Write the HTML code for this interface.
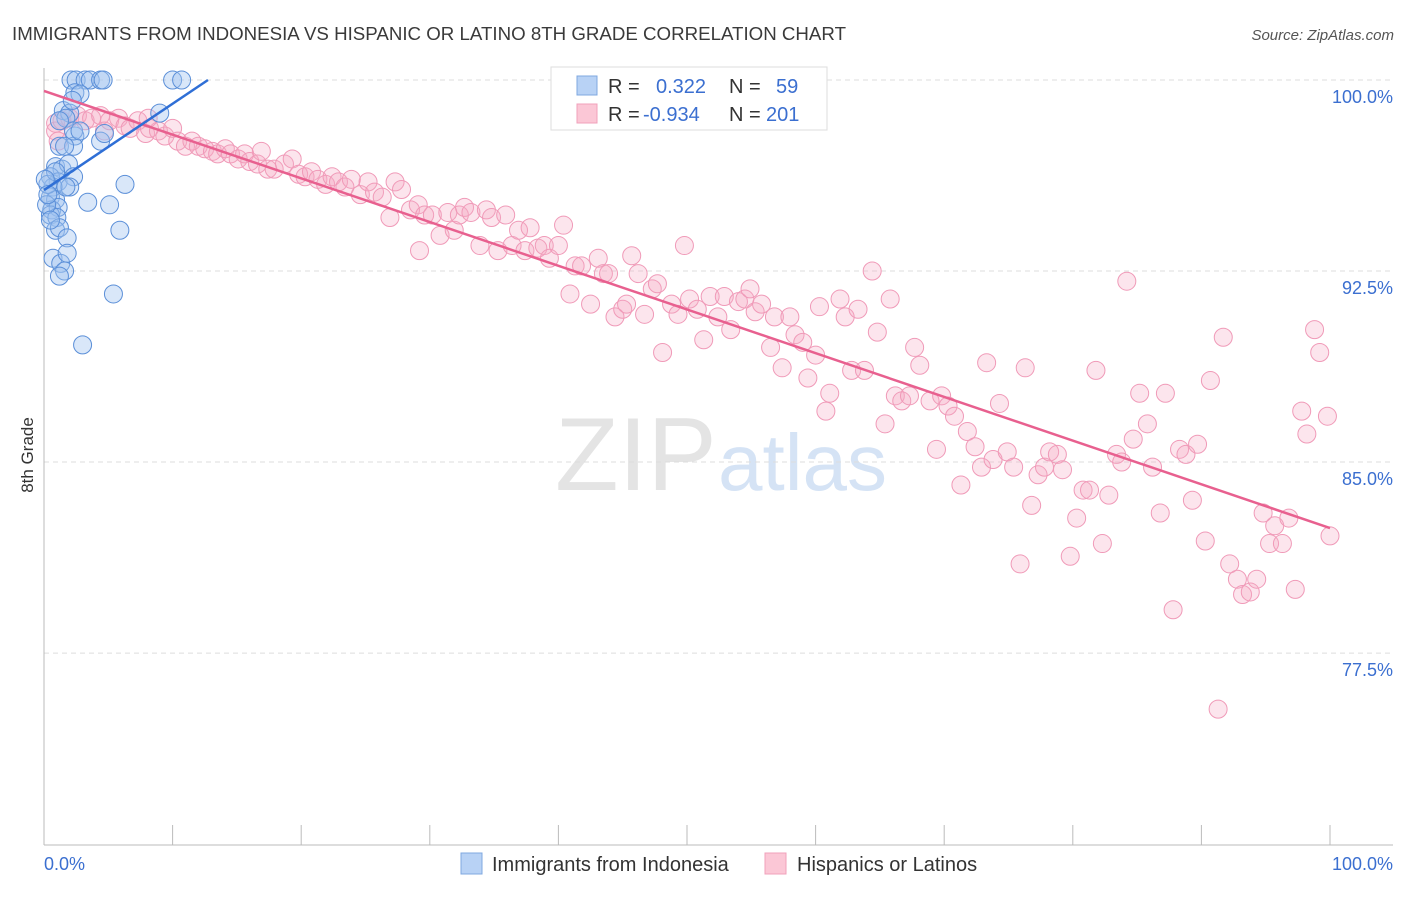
<!DOCTYPE html>
<html><head><meta charset="utf-8">
<style>
body{margin:0;background:#fff;font-family:"Liberation Sans",sans-serif;}
svg text{font-family:"Liberation Sans",sans-serif;}
</style></head>
<body>
<svg id="chart" width="1406" height="892" xmlns="http://www.w3.org/2000/svg">
<text x="12" y="40" font-size="18.5" fill="#3a3a3a" textLength="834" lengthAdjust="spacingAndGlyphs">IMMIGRANTS FROM INDONESIA VS HISPANIC OR LATINO 8TH GRADE CORRELATION CHART</text>
<text x="1394" y="40" font-size="15" fill="#555" text-anchor="end" font-style="italic">Source: ZipAtlas.com</text>
<g>
<text x="555" y="490" font-size="104" fill="#e4e4e4" font-family="Liberation Serif">ZIP</text>
<text x="718" y="490" font-size="80" fill="#d5e3f5">atlas</text>
</g>
<g id="grid"></g>
<g id="axes"></g>
<g id="pink"></g>
<g id="blue"></g>
<g id="lines"></g>
<text transform="translate(33,455) rotate(-90)" font-size="17" fill="#333" text-anchor="middle">8th Grade</text>
<g>
<rect x="551" y="67" width="276" height="63" fill="#fff" stroke="#ddd"/>
<rect x="577" y="76" width="20" height="19" fill="#b8d2f5" stroke="#7fa8e0"/>
<rect x="577" y="104" width="20" height="19" fill="#fbc7d6" stroke="#f0a0bb"/>
<text x="608" y="93" font-size="20" fill="#333">R =</text>
<text x="656" y="93" font-size="20" fill="#3b6fd0">0.322</text>
<text x="729" y="93" font-size="20" fill="#333">N =</text>
<text x="776" y="93" font-size="20" fill="#3b6fd0">59</text>
<text x="608" y="121" font-size="20" fill="#333">R =</text>
<text x="643" y="121" font-size="20" fill="#3b6fd0">-0.934</text>
<text x="729" y="121" font-size="20" fill="#333">N =</text>
<text x="766" y="121" font-size="20" fill="#3b6fd0">201</text>
</g>
<g>
<rect x="461" y="853" width="21" height="21" fill="#b8d2f5" stroke="#7fa8e0"/>
<text x="492" y="871" font-size="20" fill="#333">Immigrants from Indonesia</text>
<rect x="765" y="853" width="21" height="21" fill="#fbc7d6" stroke="#f0a0bb"/>
<text x="797" y="871" font-size="20" fill="#333">Hispanics or Latinos</text>
</g>
</svg>
<script>
const yTicks=[100,92.5,85,77.5];
const yTickLabels=["100.0%","92.5%","85.0%","77.5%"];
const xTickCount=10;
const blueX=[2.1,2.5,3.2,3.6,4.4,4.6,10.0,10.7,2.4,2.8,1.5,2.0,1.7,9.0,4.4,2.4,1.2,2.3,0.9,1.4,1.9,0.5,1.1,2.3,2.0,0.7,6.3,0.5,0.9,0.6,1.1,0.5,1.0,3.4,5.1,0.9,1.2,1.8,5.9,0.7,1.3,1.8,1.6,1.2,5.4,3.0,0.3,0.2,0.5,0.9,1.6,2.3,2.8,0.1,0.3,1.7,4.7,2.2,1.2];
const blueY=[100,100,100,100,100,100,100,100,99.5,99.45,98.8,98.7,98.5,98.7,97.6,97.8,97.4,97.4,96.6,96.5,96.7,96.2,96.0,96.2,95.8,95.8,95.9,95.4,95.3,94.9,95.0,94.7,94.6,95.2,95.1,94.1,94.2,93.8,94.1,93.0,92.8,93.2,92.5,92.3,91.6,89.6,95.9,95.1,94.5,96.4,97.4,98.0,98.0,96.1,95.5,95.8,97.9,99.2,98.4];
const pinkX=[0.9,0.9,1.4,2.0,2.6,3.2,3.7,4.4,4.7,5.1,5.8,6.3,6.7,7.3,7.9,8.2,8.9,9.4,10.0,10.4,11.0,11.5,12.0,12.5,13.1,13.5,14.1,14.5,15.1,15.6,16.0,16.6,16.9,17.4,17.9,18.7,19.3,19.8,20.3,20.8,21.3,21.9,22.4,22.9,23.4,23.9,24.6,25.2,25.7,26.3,26.9,27.3,27.8,28.5,29.1,29.2,29.6,30.2,30.8,31.4,31.9,32.3,32.7,33.2,33.9,34.4,34.8,35.3,35.9,36.4,36.9,37.4,37.8,38.4,38.9,39.3,40.0,40.4,40.9,41.3,41.8,42.5,43.1,43.5,43.9,44.4,45.0,45.3,45.7,46.2,46.7,47.3,47.7,48.1,48.8,49.3,49.8,50.2,50.8,51.3,51.8,52.4,52.9,53.4,54.0,54.5,54.9,55.3,55.8,56.5,56.8,57.4,58.0,58.4,59.0,59.4,60.0,60.3,60.8,61.1,61.9,62.3,62.8,63.3,63.8,64.4,64.8,65.4,65.8,66.2,66.7,67.3,67.7,68.1,68.9,69.4,69.8,70.3,70.8,71.3,71.8,72.4,72.9,73.3,73.8,74.3,74.9,75.4,75.9,76.3,76.8,77.3,77.8,78.2,78.8,79.2,79.8,80.3,80.8,81.3,81.8,82.3,82.8,83.4,83.8,84.2,84.7,85.2,85.8,86.2,86.8,87.2,87.8,88.3,88.8,89.3,89.7,90.3,90.7,91.3,91.7,92.2,92.8,93.2,93.8,94.3,94.8,95.3,95.7,96.3,96.8,97.3,97.8,98.2,98.8,99.2,99.8,100,1.1,8.1];
const pinkY=[98.3,98.0,98.4,98.5,98.6,98.4,98.5,98.6,98.0,98.4,98.5,98.2,98.1,98.4,97.9,98.1,98.0,97.8,98.1,97.6,97.4,97.6,97.4,97.3,97.2,97.1,97.3,97.1,96.9,97.1,96.8,96.7,97.2,96.5,96.5,96.7,96.9,96.3,96.2,96.4,96.1,95.9,96.2,96.0,95.8,96.1,95.5,96.0,95.6,95.4,94.6,96.0,95.7,94.9,95.1,93.3,94.7,94.7,93.9,94.8,94.1,94.7,95.0,94.8,93.5,94.9,94.6,93.3,94.7,93.5,94.1,93.3,94.2,93.4,93.5,93.0,93.5,94.3,91.6,92.7,92.7,91.2,93.0,92.4,92.4,90.7,91.0,91.2,93.1,92.4,90.8,91.8,92.0,89.3,91.2,90.8,93.5,91.4,91.0,89.8,91.5,90.7,91.5,90.2,91.3,91.4,91.8,90.9,91.2,89.5,90.7,88.7,90.7,90.0,89.7,88.3,89.2,91.1,87.0,87.7,91.4,90.7,88.6,91.0,88.6,92.5,90.1,86.5,91.4,87.6,87.4,87.6,89.5,88.8,87.4,85.5,87.6,87.2,86.8,84.1,86.2,85.6,84.8,88.9,85.1,87.3,85.4,84.8,81.0,88.7,83.3,84.5,84.8,85.4,85.3,84.7,81.3,82.8,83.9,83.9,88.6,81.8,83.7,85.3,85.0,92.1,85.9,87.7,86.5,84.8,83.0,87.7,79.2,85.5,85.3,83.5,85.7,81.9,88.2,75.3,89.9,81.0,80.4,79.8,79.9,80.4,83.0,81.8,82.5,81.8,82.8,80.0,87.0,86.1,90.2,89.3,86.8,82.1,97.6,98.5];
const blueTrend=[[0,95.68],[12.75,100]];
const pinkTrend=[[0,99.57],[100,82.41]];

const NS="http://www.w3.org/2000/svg";
const L=44,R=1330,T=80,PX=12.86,PY=25.47;
const sx=v=>L+v*PX;
const sy=v=>T+(100-v)*PY;
function mk(tag,attrs,parent){const e=document.createElementNS(NS,tag);for(const k in attrs)e.setAttribute(k,attrs[k]);parent.appendChild(e);return e;}
const grid=document.getElementById('grid'),axes=document.getElementById('axes');
yTicks.forEach((t,i)=>{
  const g=mk('line',{x1:L,x2:1393,y1:sy(t),y2:sy(t),stroke:'#ddd','stroke-dasharray':'5,4'},grid);
  
  
  const tx=mk('text',{x:1393,y:sy(t)+23,'font-size':18,fill:'#3b6fd0','text-anchor':'end'},axes);
  tx.textContent=yTickLabels[i];
  
  
});
const base=845;
mk('line',{x1:L,x2:1393,y1:base,y2:base,stroke:'#bbb'},axes);
mk('line',{x1:L,x2:L,y1:68,y2:base,stroke:'#bbb'},axes);
for(let i=0;i<=xTickCount;i++){
  const x=sx(i*10);
  const tk=mk('line',{x1:x,x2:x,y1:base-20,y2:base,stroke:'#bbb'},axes);
  
  
}
const x0=mk('text',{x:44,y:870,'font-size':18,fill:'#3b6fd0'},axes);x0.textContent='0.0%';


const x1=mk('text',{x:1393,y:870,'font-size':18,fill:'#3b6fd0','text-anchor':'end'},axes);x1.textContent='100.0%';


const pg=document.getElementById('pink');
pinkX.forEach((v,i)=>{
  const c=mk('circle',{cx:sx(v),cy:sy(pinkY[i]),r:9,fill:'rgba(246,170,196,0.3)',stroke:'#f09ab8','stroke-width':1},pg);
  
  
});
const bg=document.getElementById('blue');
blueX.forEach((v,i)=>{
  const c=mk('circle',{cx:sx(v),cy:sy(blueY[i]),r:9,fill:'rgba(160,195,240,0.4)',stroke:'#5b8fd8','stroke-width':1},bg);
  
  
});
const lg=document.getElementById('lines');
const pl=mk('line',{x1:sx(pinkTrend[0][0]),y1:sy(pinkTrend[0][1]),x2:sx(pinkTrend[1][0]),y2:sy(pinkTrend[1][1]),stroke:'#e8608f','stroke-width':2.5},lg);


const bl=mk('line',{x1:sx(blueTrend[0][0]),y1:sy(blueTrend[0][1]),x2:sx(blueTrend[1][0]),y2:sy(blueTrend[1][1]),stroke:'#2f6fd6','stroke-width':2.5},lg);


</script>
</body></html>
